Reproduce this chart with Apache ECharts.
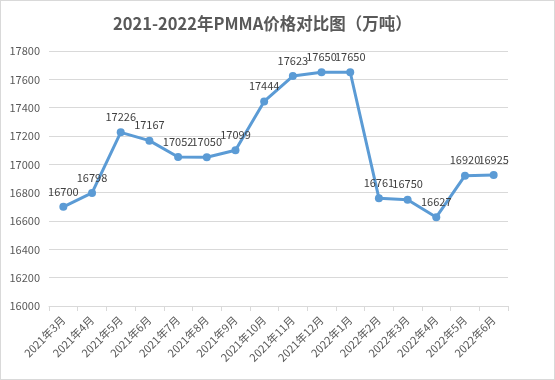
<!DOCTYPE html>
<html><head><meta charset="utf-8">
<script src="https://cdn.jsdelivr.net/npm/echarts@6/dist/echarts.min.js"></script>
<style>html,body{margin:0;padding:0;background:#fff}#c{width:553px;height:378px;border:1px solid #d9d9d9}</style>
</head><body><div id="c"></div>
<script>
const categories = ['2021年3月','2021年4月','2021年5月','2021年6月','2021年7月','2021年8月','2021年9月','2021年10月','2021年11月','2021年12月','2022年1月','2022年2月','2022年3月','2022年4月','2022年5月','2022年6月'];
const prices = [16700,16798,17226,17167,17052,17050,17099,17444,17623,17650,17650,16761,16750,16627,16920,16925];
const yMin = 16000, yMax = 17800, yStep = 200;
const titleText = '2021-2022年PMMA价格对比图（万吨）';

const chart = echarts.init(document.getElementById('c'));
chart.setOption({
  animation: false,
  title: {text: titleText, left: 107, top: 9,
    textStyle: {fontFamily: 'Noto Sans CJK SC', fontSize: 16.5, fontWeight: 'bold', color: '#595959'}},
  grid: {left: 48, right: 46, top: 50, bottom: 73},
  xAxis: {type: 'category', data: categories, boundaryGap: true,
    axisLine: {lineStyle: {color: '#d9d9d9'}},
    axisTick: {show: true, alignWithLabel: false, length: 5, lineStyle: {color: '#d9d9d9'}},
    axisLabel: {rotate: 45, interval: 0, color: '#595959', fontSize: 11, fontFamily: 'Noto Sans CJK SC', margin: 12}},
  yAxis: {type: 'value', min: yMin, max: yMax, interval: yStep,
    axisLine: {show: false}, axisTick: {show: false},
    splitLine: {lineStyle: {color: '#d9d9d9'}},
    axisLabel: {color: '#595959', fontSize: 11, fontFamily: 'Noto Sans CJK SC', margin: 9, formatter: v => String(v)}},
  series: [{type: 'line', data: prices, symbol: 'circle', symbolSize: 8,
    lineStyle: {color: '#5b9bd5', width: 3}, itemStyle: {color: '#5b9bd5'},
    label: {show: true, position: 'top', distance: 6, color: '#404040', fontSize: 11, fontFamily: 'Noto Sans CJK SC'}}]
});
</script></body></html>
